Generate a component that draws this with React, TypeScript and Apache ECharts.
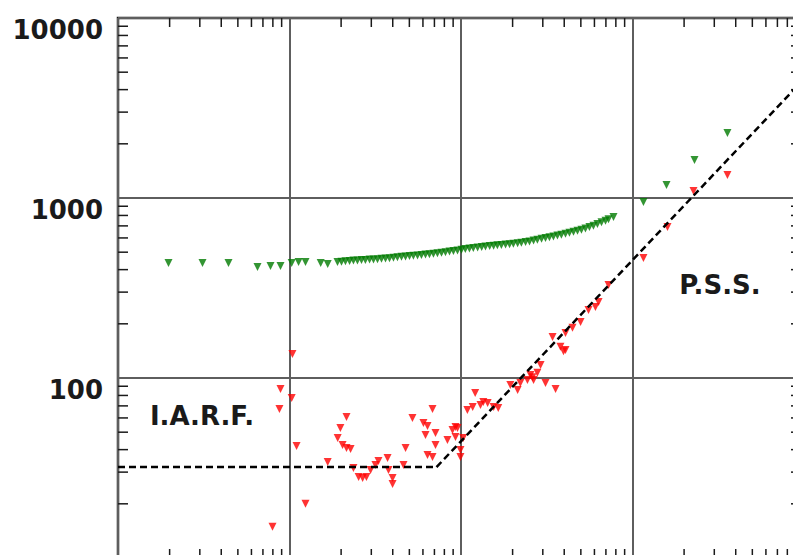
import React, { useEffect, useRef } from 'react';
import * as echarts from 'echarts';

// Green series (pressure change)
const greenX = [0.197, 0.311, 0.441, 0.651, 0.775, 0.886, 1.03, 1.13, 1.24, 1.52, 1.67,
  1.905, 2.01, 2.12, 2.24, 2.36, 2.49, 2.63, 2.77, 2.93, 3.09,
  3.26, 3.44, 3.63, 3.83, 4.04, 4.26, 4.50, 4.75, 5.01, 5.28,
  5.58, 5.88, 6.21, 6.55, 6.91, 7.29, 7.70, 8.12, 8.57, 9.04,
  9.54, 10.07, 10.6, 11.2, 11.8, 12.5, 13.2, 13.9, 14.7, 15.5,
  16.3, 17.2, 18.2, 19.2, 20.2, 21.4, 22.5, 23.8, 25.1, 26.5,
  27.9, 29.5, 31.1, 32.8, 34.6, 36.5, 38.5, 40.7, 42.9, 45.3,
  47.8, 50.4, 53.2, 56.1, 59.2, 62.5, 66.0, 69.6, 72.5, 77.5,
  115.9, 157.9, 229.9, 358];
const greenY = [435, 435, 435, 414, 419, 419, 435, 441, 441, 435, 430,
  441, 443, 445, 447, 449, 450, 452, 453, 455, 456,
  457, 459, 461, 463, 466, 468, 471, 473, 476, 478,
  480, 482, 485, 487, 490, 493, 496, 500, 504, 507,
  511, 515, 520, 524, 528, 531, 535, 538, 541, 543,
  546, 549, 552, 554, 557, 560, 564, 569, 574, 580,
  587, 593, 599, 605, 612, 618, 625, 633, 641, 649,
  657, 667, 677, 689, 702, 718, 734, 748, 762, 784,
  950, 1181, 1626, 2297];

// Red series (derivative)
const redX = [1.04, 0.886, 1.03, 0.874, 1.10, 0.796, 1.24, 2.15, 1.98, 1.91,
  2.04, 2.15, 2.27, 1.67, 2.36, 2.53, 2.67, 2.81, 2.97, 3.17,
  3.30, 3.73, 3.78, 3.99, 3.99, 4.75, 4.62, 5.21, 6.04, 6.38,
  6.82, 6.21, 7.10, 7.10, 6.38, 6.82, 8.34, 8.92, 9.29, 9.54,
  9.93, 9.93, 10.3, 10.9, 11.7, 12.1, 13.0, 14.3, 15.5, 16.5,
  13.5, 19.4, 21.4, 22.2, 24.4, 26.1, 27.9, 29.1, 31.1, 35.6,
  39.6, 34.2, 40.7, 38.0, 40.7, 25.4, 26.5, 9.29, 44.7, 49.8,
  55.4, 60.8, 63.4, 72.5, 115.9, 160, 227, 358];
const redY = [136, 86.9, 77.4, 67.3, 41.9, 14.9, 20.0, 60.7, 52.7, 46.4,
  42.4, 40.8, 40.3, 34.1, 31.6, 28.2, 27.8, 28.2, 30.8, 32.9,
  34.6, 35.9, 30.8, 27.8, 25.8, 40.8, 32.9, 60.0, 56.2, 54.1,
  67.3, 48.3, 49.5, 42.4, 37.4, 36.4, 45.2, 51.4, 47.0, 52.7,
  39.8, 36.4, 46.4, 66.4, 69.0, 82.5, 70.8, 72.6, 69.0, 68.1,
  73.5, 91.4, 85.8, 93.8, 97.5, 101, 107, 118, 93.8, 86.9,
  141, 169, 178, 149, 143, 104, 97.5, 53.4, 190, 205,
  239, 248, 264, 329, 464, 690, 1094, 1342];

// Straight-line regimes (dashed)
const iarfLineX = [0.1, 7.2];
const iarfLineY = [32, 32];
const pssLineX = [7.2, 961];
const pssLineY = [32, 4400];

const annotations = ['I.A.R.F.', 'P.S.S.'];

// Tick labels / minor tick positions
const yTickLabels = ['100', '1000', '10000'];
const yMinorTicks = [20, 30, 40, 50, 60, 70, 80, 90,
  200, 300, 400, 500, 600, 700, 800, 900,
  2000, 3000, 4000, 5000, 6000, 7000, 8000, 9000];
const xMinorTicks = [0.2, 0.3, 0.4, 0.5, 0.6, 0.7, 0.8, 0.9,
  2, 3, 4, 5, 6, 7, 8, 9,
  20, 30, 40, 50, 60, 70, 80, 90,
  200, 300, 400, 500, 600, 700, 800, 900];

const zip = (xs: number[], ys: number[]) => xs.map((x, i) => [x, ys[i]]);

export default function App() {
  const ref = useRef<HTMLDivElement>(null);
  useEffect(() => {
    if (!ref.current) return;
    const chart = echarts.init(ref.current, undefined, { renderer: 'svg' });
    const ink = '#1a1a1a';
    const font = 'DejaVu Sans';
    const option: any = {
      animation: false,
      backgroundColor: '#ffffff',
      grid: {
        left: 118, right: 9, top: 18, bottom: 2,
        show: true, borderColor: ink, borderWidth: 2.5, backgroundColor: 'transparent',
      },
      xAxis: {
        type: 'log', logBase: 10, min: 0.1, max: 961,
        axisLine: { show: false }, axisTick: { show: false },
        axisLabel: { show: false },
        splitLine: { show: true, lineStyle: { color: '#5e5e5e', width: 2 } },
      },
      yAxis: {
        type: 'log', logBase: 10, min: 10, max: 10000,
        axisLine: { show: false }, axisTick: { show: false },
        axisLabel: {
          show: true,
          showMinLabel: false,
          margin: 15,
          fontSize: 26,
          fontWeight: 'bold',
          fontFamily: font,
          color: ink,
          verticalAlign: 'top',
          lineHeight: 24,
          formatter: (v: number) => {
            const s = String(Math.round(v));
            return yTickLabels.includes(s) ? s : '';
          },
        },
        splitLine: { show: true, lineStyle: { color: '#5e5e5e', width: 2 } },
      },
      graphic: [
        {
          type: 'text', x: 202, y: 416, z: 100,
          style: { text: annotations[0], font: `bold 26px "${font}"`, fill: ink, align: 'center', verticalAlign: 'middle' },
        },
        {
          type: 'text', x: 720, y: 285, z: 100,
          style: { text: annotations[1], font: `bold 26px "${font}"`, fill: ink, align: 'center', verticalAlign: 'middle' },
        },
      ],
      series: [
        {
          type: 'custom',
          coordinateSystem: 'cartesian2d',
          silent: true,
          z: 5,
          data: yMinorTicks.map((v) => [1, v]),
          renderItem: (params: any, api: any) => {
            const cs = params.coordSys;
            const p = api.coord([1, api.value(1)]);
            const st = { stroke: ink, lineWidth: 1.5 };
            return {
              type: 'group',
              children: [
                { type: 'line', shape: { x1: cs.x, y1: p[1], x2: cs.x + 10, y2: p[1] }, style: st },
                { type: 'line', shape: { x1: cs.x + cs.width - 10, y1: p[1], x2: cs.x + cs.width, y2: p[1] }, style: st },
              ],
            };
          },
        },
        {
          type: 'custom',
          coordinateSystem: 'cartesian2d',
          silent: true,
          z: 5,
          data: xMinorTicks.map((v) => [v, 100]),
          renderItem: (params: any, api: any) => {
            const cs = params.coordSys;
            const p = api.coord([api.value(0), 100]);
            const st = { stroke: ink, lineWidth: 1.5 };
            return {
              type: 'group',
              children: [
                { type: 'line', shape: { x1: p[0], y1: cs.y, x2: p[0], y2: cs.y + 9 }, style: st },
                { type: 'line', shape: { x1: p[0], y1: cs.y + cs.height - 9, x2: p[0], y2: cs.y + cs.height }, style: st },
              ],
            };
          },
        },
        {
          name: 'Δp',
          type: 'scatter',
          data: zip(greenX, greenY),
          symbol: 'triangle',
          symbolRotate: 180,
          symbolSize: 8,
          itemStyle: { color: '#007a00' },
          z: 10,
        },
        {
          name: 'derivative',
          type: 'scatter',
          data: zip(redX, redY),
          symbol: 'triangle',
          symbolRotate: 180,
          symbolSize: 8,
          itemStyle: { color: '#ff0000' },
          z: 10,
        },
        {
          type: 'line',
          data: zip(iarfLineX, iarfLineY),
          showSymbol: false,
          symbol: 'none',
          lineStyle: { color: '#000000', width: 2.5, type: [7, 4] },
          z: 20,
        },
        {
          type: 'line',
          data: zip(pssLineX, pssLineY),
          showSymbol: false,
          symbol: 'none',
          lineStyle: { color: '#000000', width: 2.5, type: [7, 4] },
          z: 20,
        },
      ],
    };
    chart.setOption(option);
    return () => chart.dispose();
  }, []);
  return (
    <div
      ref={ref}
      style={{ position: 'fixed', left: 0, top: 0, width: 810, height: 560, background: '#ffffff' }}
    />
  );
}
